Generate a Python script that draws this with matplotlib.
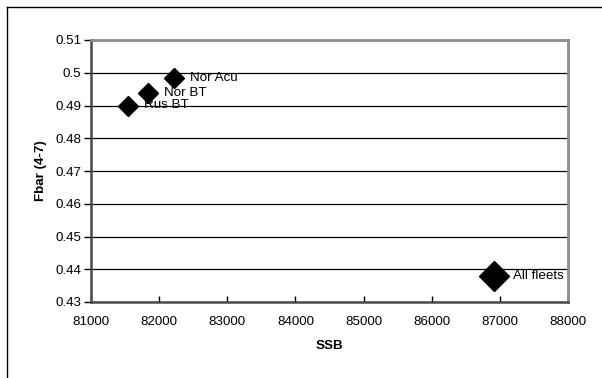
import matplotlib
matplotlib.use("Agg")
import matplotlib.pyplot as plt
from matplotlib.lines import Line2D

plt.rcParams['font.family'] = ['Liberation Sans', 'DejaVu Sans']

# Fleet results: spawning stock biomass vs mean fishing mortality
fleets = ["Rus BT", "Nor BT", "Nor Acu"]
ssb = [81545, 81840, 82225]
fbar = [0.4900, 0.4937, 0.4984]

total_label = "All fleets"
total_ssb = 86920
total_fbar = 0.4378

x_ticks = [81000, 82000, 83000, 84000, 85000, 86000, 87000, 88000]
y_ticks = [0.43, 0.44, 0.45, 0.46, 0.47, 0.48, 0.49, 0.5, 0.51]
y_tick_labels = ["0.43", "0.44", "0.45", "0.46", "0.47", "0.48", "0.49", "0.5", "0.51"]

W, H = 602, 378
FS = 9.6
fig = plt.figure(figsize=(W / 100, H / 100), dpi=100)
ax = fig.add_axes([91 / W, 1 - 302 / H, (568 - 91) / W, (302 - 40) / H])

# outer chart frame (top and left edges visible)
fig.add_artist(Line2D([7 / W, 7 / W], [0, 1 - 6.5 / H], transform=fig.transFigure,
                      color="black", lw=1.0))
fig.add_artist(Line2D([7 / W, 1], [1 - 6.5 / H, 1 - 6.5 / H], transform=fig.transFigure,
                      color="black", lw=1.0))

ax.set_xlim(81000, 88000)
ax.set_ylim(0.43, 0.51)
ax.set_xticks(x_ticks)
ax.set_xticklabels([str(v) for v in x_ticks])
ax.set_yticks(y_ticks)
ax.set_yticklabels(y_tick_labels)

ax.grid(axis="y", color="black", lw=0.9)
ax.set_axisbelow(True)

for side in ("top", "right"):
    ax.spines[side].set_color("#8c8c8c")
    ax.spines[side].set_linewidth(2.0)
for side in ("left", "bottom"):
    ax.spines[side].set_color("#4a4a4a")
    ax.spines[side].set_linewidth(1.8)

ax.tick_params(axis="y", direction="out", length=5, width=1, color="black",
               labelsize=FS, pad=2)
ax.tick_params(axis="x", direction="in", length=4, width=1, color="black",
               labelsize=FS, pad=10)

ax.plot(ssb, fbar, linestyle="none", marker="D", markersize=10,
        color="black", clip_on=False, zorder=3)
ax.plot([total_ssb], [total_fbar], linestyle="none", marker="D", markersize=15,
        color="black", clip_on=False, zorder=3)

for name, x, y in zip(fleets, ssb, fbar):
    ax.annotate(name, (x, y), xytext=(11.5, 0), textcoords="offset points",
                ha="left", va="center", fontsize=FS, zorder=4)
ax.annotate(total_label, (total_ssb, total_fbar), xytext=(13.5, 0.5),
            textcoords="offset points", ha="left", va="center", fontsize=FS, zorder=4)

ax.set_xlabel("SSB", fontsize=FS, fontweight="bold", labelpad=9)
ax.set_ylabel("Fbar (4-7)", fontsize=FS, fontweight="bold", labelpad=6)

fig.savefig("out.png", dpi=100, facecolor="white")
